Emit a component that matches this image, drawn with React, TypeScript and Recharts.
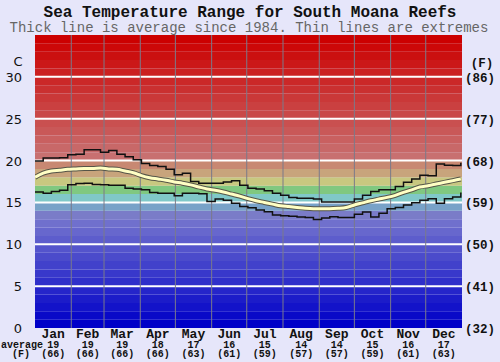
import React from "react";
import { ComposedChart, Line, XAxis, YAxis, ReferenceArea, ReferenceLine } from "recharts";

const days = [0,7,14,21,28,35,42,49,56,63,70,77,84,91,98,105,112,119,126,133,140,147,154,161,168,175,182,189,196,203,210,217,224,231,238,245,252,259,266,273,280,287,294,301,308,315,322,329,336,343,350,357,364];
const avgTemp = [18.0,18.5,18.75,18.85,18.95,19.0,19.05,19.05,19.1,19.0,18.95,18.75,18.55,18.2,17.95,17.8,17.65,17.45,17.3,17.1,16.85,16.6,16.45,16.25,16.0,15.75,15.45,15.2,15.0,14.8,14.6,14.5,14.4,14.3,14.25,14.25,14.25,14.3,14.4,14.7,14.95,15.2,15.4,15.6,15.85,16.2,16.5,16.85,17.0,17.2,17.4,17.6,17.8];
const maxTemp = [19.95,20.3,20.3,20.35,20.7,20.75,21.3,21.3,21.0,21.2,20.75,20.45,20.1,19.65,19.4,19.3,18.95,18.3,18.5,17.5,17.3,17.3,17.3,17.45,17.6,17.05,16.7,16.6,16.4,16.1,15.85,15.6,15.5,15.5,15.4,15.05,15.05,15.05,15.05,15.4,15.85,16.3,16.5,16.5,16.9,17.4,17.8,18.25,18.2,19.6,19.45,19.4,19.75];
const minTemp = [16.25,16.1,16.3,16.45,17.1,17.25,17.3,17.15,17.1,17.05,17.05,16.7,16.6,16.5,16.2,16.1,16.1,15.8,16.1,16.1,16.05,15.1,15.4,15.25,14.9,14.5,14.35,14.1,13.9,13.5,13.4,13.35,13.25,13.2,12.95,13.15,13.3,13.2,13.2,13.6,13.85,13.25,13.7,14.25,14.4,14.7,14.95,15.25,15.45,14.9,15.45,15.65,16.2];

const months = ["Jan","Feb","Mar","Apr","May","Jun","Jul","Aug","Sep","Oct","Nov","Dec"];
const monthMid = [15.5,45,74.5,105,135.5,166,196.5,227.5,258,288.5,319,349.5];
const monthBounds = [31,59,90,120,151,181,212,243,273,304,334];
const monthAvgC = ["19","19","19","18","17","16","15","14","14","15","16","17"];
const monthAvgF = ["(66)","(66)","(66)","(66)","(63)","(61)","(59)","(57)","(57)","(59)","(61)","(63)"];
const cTicks = [0,5,10,15,20,25,30];
const fLabels = ["(32)","(41)","(50)","(59)","(68)","(77)","(86)"];

const data = days.map((d, i) => ({ day: d, avg: avgTemp[i], max: maxTemp[i], min: minTemp[i] }));

const special: Record<number, string> = {
  13: "#7a7cc8",
  14: "#78a2c8",
  15: "#80c8c8",
  16: "#80c880",
  17: "#c8c880",
  18: "#c8a47c",
  19: "#c88872",
};
function bandColor(t: number): string {
  if (special[t]) return special[t];
  if (t < 13) {
    const f = t / 12;
    const v = Math.round(f * 112);
    return `rgb(${v},${v},${200 + Math.round(f * 5)})`;
  }
  const f = (t - 20) / 14;
  const gb = Math.round(112 * (1 - f));
  return `rgb(${200 + Math.round(f * 4)},${gb},${gb})`;
}
const bands = Array.from({ length: 35 }, (_, i) => i);

const mono = "'Liberation Mono', 'Courier New', monospace";

const MonthTick = (props: any) => {
  const { x, index } = props;
  return (
    <g>
      <text x={x} y={338} textAnchor="middle" fontFamily={mono} fontWeight="bold" fontSize={13} fill="#111">{months[index]}</text>
      <text x={x} y={348} textAnchor="middle" fontFamily={mono} fontWeight="bold" fontSize={10} fill="#111">{monthAvgC[index]}</text>
      <text x={x} y={357} textAnchor="middle" fontFamily={mono} fontWeight="bold" fontSize={10} fill="#111">{monthAvgF[index]}</text>
    </g>
  );
};

const LeftTick = (props: any) => {
  const { y, payload } = props;
  return (
    <text x={22} y={y + 5} textAnchor="end" fontFamily="'DejaVu Sans', sans-serif" fontSize={13} fill="#111">{payload.value}</text>
  );
};

const RightTick = (props: any) => {
  const { y, payload } = props;
  const idx = cTicks.indexOf(payload.value);
  return (
    <text x={465} y={y + 5} textAnchor="start" fontFamily={mono} fontWeight="bold" fontSize={12.5} fill="#111">{fLabels[idx]}</text>
  );
};

export default function App() {
  return (
    <div style={{ position: "absolute", left: 0, top: 0, width: 500, height: 362, background: "#e6e6fa", overflow: "hidden" }}>
      <svg width={500} height={40} style={{ position: "absolute", left: 0, top: 0 }}>
        <text x={250} y={17} textAnchor="middle" fontFamily={mono} fontWeight="bold" fontSize={16} fill="#111">Sea Temperature Range for South Moana Reefs</text>
        <text x={249} y={32} textAnchor="middle" fontFamily={mono} fontSize={14} fill="#666">Thick line is average since 1984. Thin lines are extremes</text>
      </svg>
      <div style={{ position: "absolute", left: 0, top: 0 }}>
        <ComposedChart width={500} height={362} data={data} margin={{ top: 35, right: 0, bottom: 0, left: 0 }}>
          <XAxis dataKey="day" type="number" domain={[0, 365]} ticks={monthMid} tick={<MonthTick />} tickLine={false} axisLine={false} height={34} interval={0} allowDataOverflow />
          <YAxis yAxisId="c" type="number" domain={[0, 35]} ticks={cTicks} tick={<LeftTick />} tickLine={false} axisLine={false} width={35} allowDataOverflow />
          <YAxis yAxisId="f" orientation="right" type="number" domain={[0, 35]} ticks={cTicks} tick={<RightTick />} tickLine={false} axisLine={false} width={38} allowDataOverflow />
          {bands.map((t) => (
            <ReferenceArea key={t} yAxisId="c" x1={0} x2={365} y1={t} y2={t + 1} fill={bandColor(t)} fillOpacity={1} stroke="none" ifOverflow="hidden" />
          ))}
          {cTicks.filter((t) => t > 0).map((t) => (
            <ReferenceLine key={"h" + t} yAxisId="c" y={t} stroke="#ffffff" strokeWidth={2} />
          ))}
          {monthBounds.map((b) => (
            <ReferenceLine key={"v" + b} yAxisId="c" x={b} stroke="#7a7a8a" strokeWidth={1} />
          ))}
          <Line yAxisId="c" dataKey="max" type="stepAfter" stroke="#111" strokeWidth={1.5} dot={false} isAnimationActive={false} />
          <Line yAxisId="c" dataKey="min" type="stepAfter" stroke="#111" strokeWidth={1.5} dot={false} isAnimationActive={false} />
          <Line yAxisId="c" dataKey="avg" type="monotone" stroke="#555548" strokeWidth={5} dot={false} isAnimationActive={false} />
          <Line yAxisId="c" dataKey="avg" type="monotone" stroke="#ffffc4" strokeWidth={3} dot={false} isAnimationActive={false} />
        </ComposedChart>
      </div>
      <svg width={500} height={362} style={{ position: "absolute", left: 0, top: 0, pointerEvents: "none" }}>
        <text x={18} y={66} textAnchor="middle" fontFamily="'DejaVu Sans', sans-serif" fontSize={13} fill="#111">C</text>
        <text x={482} y={67} textAnchor="middle" fontFamily={mono} fontWeight="bold" fontSize={12.5} fill="#111">(F)</text>
        <text x={1} y={348} textAnchor="start" fontFamily={mono} fontWeight="bold" fontSize={10} fill="#111">average</text>
        <text x={21} y={357} textAnchor="middle" fontFamily={mono} fontWeight="bold" fontSize={10} fill="#111">(F)</text>
      </svg>
    </div>
  );
}
